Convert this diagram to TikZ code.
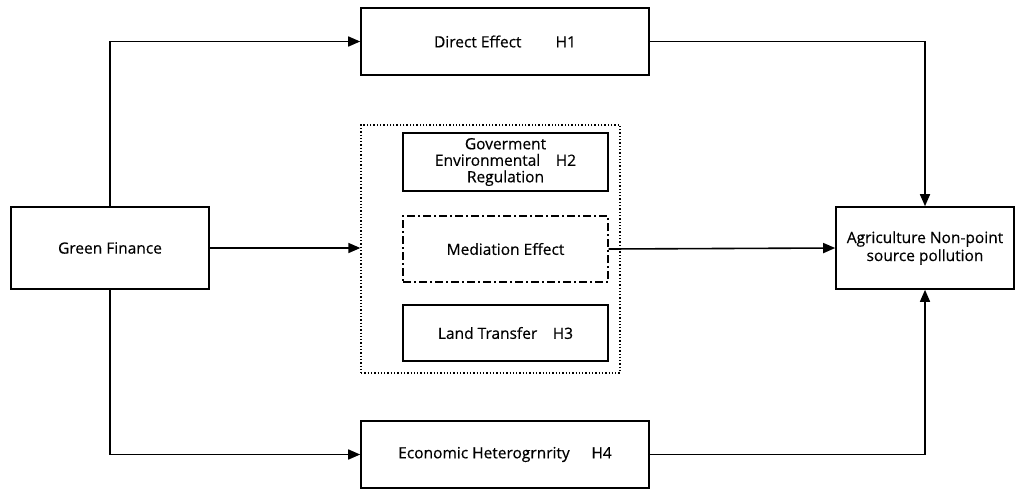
\documentclass[tikz,border=0pt]{standalone}
\usepackage{fontspec}
\setmainfont{Open Sans}[FakeBold=0.4]
\usetikzlibrary{arrows.meta}
\begin{document}
\begin{tikzpicture}[x=1pt,y=-1pt,
  box/.style={draw,line width=1.6pt,rectangle,inner sep=0pt,font=\fontsize{15.5}{18}\selectfont,align=center},
  conn/.style={line width=1.6pt,-{Triangle[length=12pt,width=10pt]}},
  plain/.style={line width=1.6pt}]
\useasboundingbox (0,0) rectangle (1024,490);
\node[box,minimum width=288pt,minimum height=67pt] (de) at (505,41.5) {Direct Effect\hspace{2.2em}H1};
\node[box,minimum width=198pt,minimum height=82pt] (gf) at (110,248) {Green Finance};
\node[box,minimum width=178pt,minimum height=82pt] (ag) at (925,248) {Agriculture Non-point\\source pollution};
\node[box,minimum width=288pt,minimum height=67pt] (ec) at (505,454.5) {Economic Heterogrnrity\hspace{1.4em}H4};
\node[draw,line width=1.3pt,dotted,minimum width=259pt,minimum height=248pt,inner sep=0pt] (dot) at (490.5,249) {};
\node[box,minimum width=205pt,minimum height=58pt,font=\fontsize{15.5}{16.5}\selectfont] (gov) at (505.5,162) {Goverment\\Environmental\hspace{1em}H2\\Regulation};
\node[box,line width=1.4pt,dash pattern=on 8pt off 3pt on 2pt off 3pt,minimum width=205pt,minimum height=66pt] (me) at (505.5,249) {Mediation Effect};
\node[box,minimum width=205pt,minimum height=56pt] (lt) at (505.5,333) {Land Transfer\hspace{1em}H3};
\coordinate (c1) at (gf.north |- de.west);
\coordinate (c2) at (ag.north |- de.east);
\coordinate (c3) at (gf.south |- ec.west);
\coordinate (c4) at (ag.south |- ec.east);
\draw[conn] (gf.north) -- (c1) -- (de.west);
\draw[conn] (de.east) -- (c2) -- (ag.north);
\draw[conn] (gf.east) -- (dot.west |- gf.east);
\draw[conn] (me.east) -- (ag.west);
\draw[conn] (gf.south) -- (c3) -- (ec.west);
\draw[conn] (ec.east) -- (c4) -- (ag.south);
\end{tikzpicture}
\end{document}
